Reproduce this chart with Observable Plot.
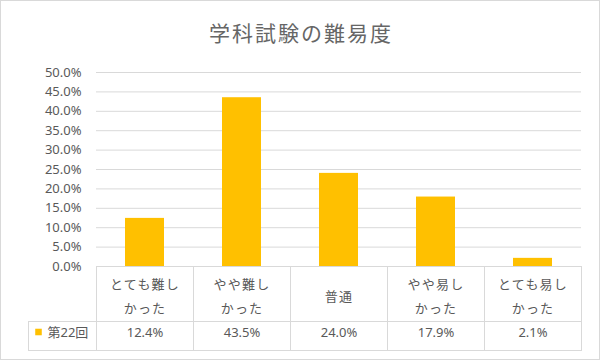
<!DOCTYPE html>
<html>
<head>
<meta charset="utf-8">
<script src="https://cdn.jsdelivr.net/npm/d3@7"></script>
<script src="https://cdn.jsdelivr.net/npm/@observablehq/plot@0.6"></script>
<style>
  html, body { margin: 0; padding: 0; background: #fff; }
  #wrap { position: relative; width: 600px; height: 360px; overflow: hidden; background: #fff;
          font-family: "Noto Sans", "Noto Sans CJK JP", sans-serif; }
  #border { position: absolute; left: 0; top: 0; width: 600px; height: 360px; box-sizing: border-box;
            border: 1px solid #d9d9d9; pointer-events: none; }
  #title { position: absolute; left: 0; top: 0; width: 600px; height: 64px; line-height: 64px;
           text-align: center; font-size: 21px; letter-spacing: 2px; padding-left: 2px; box-sizing: border-box;
           color: #666; font-family: "Noto Sans CJK JP", sans-serif; }
  #chart { position: absolute; left: 0; top: 56px; }
</style>
</head>
<body>
<div id="wrap">
  <div id="title">学科試験の難易度</div>
  <div id="chart"></div>
  <div id="border"></div>
</div>
<script>
// ---- data ----
const categories = ["とても難しかった", "やや難しかった", "普通", "やや易しかった", "とても易しかった"];
const categoryLabels = ["とても難し\nかった", "やや難し\nかった", "普通", "やや易し\nかった", "とても易し\nかった"];
const seriesName = "第22回";
const values = [0.124, 0.435, 0.240, 0.179, 0.021];
const yTicks = [0, 0.05, 0.10, 0.15, 0.20, 0.25, 0.30, 0.35, 0.40, 0.45, 0.50];

const data = categories.map((c, i) => ({cat: c, label: categoryLabels[i], value: values[i]}));
const pct = d => (d * 100).toFixed(1) + "%";

const gold = "#FFC000";
const lineColor = "#d9d9d9";
const textColor = "#595959";

const plot = Plot.plot({
  width: 600,
  height: 304,
  marginLeft: 96,
  marginRight: 19,
  marginTop: 16,
  marginBottom: 94,
  style: {fontSize: "13px", fontFamily: "'Noto Sans', 'Noto Sans CJK JP', sans-serif", color: textColor, background: "transparent", overflow: "visible"},
  x: {domain: categories, padding: 0, axis: null},
  y: {domain: [0, 0.5], ticks: yTicks, tickFormat: pct, tickSize: 0, tickPadding: 15, label: null},
  marks: [
    Plot.ruleY(yTicks, {stroke: lineColor, strokeWidth: 1}),
    Plot.barY(data, {x: "cat", y: "value", fill: gold, insetLeft: 29, insetRight: 29}),
    // data table: header row cells
    Plot.barY(categories, {x: d => d, y1: 0, y2: 0, insetBottom: -55, fill: "none", stroke: lineColor, shapeRendering: "crispEdges"}),
    // value row cells
    Plot.barY(categories, {x: d => d, y1: 0, y2: 0, insetTop: 55, insetBottom: -84, fill: "none", stroke: lineColor, shapeRendering: "crispEdges"}),
    // legend cell
    Plot.barY([categories[0]], {x: d => d, y1: 0, y2: 0, insetTop: 55, insetBottom: -84, insetLeft: -68, insetRight: 97, fill: "none", stroke: lineColor, shapeRendering: "crispEdges"}),
    // category labels
    Plot.text(data, {x: "cat", text: "label", frameAnchor: "bottom", dy: 27, lineAnchor: "middle", lineHeight: 24 / 13, fill: textColor, fontSize: 13, fontFamily: "'Noto Sans CJK JP', sans-serif"}),
    // values
    Plot.text(data, {x: "cat", text: d => pct(d.value), frameAnchor: "bottom", dy: 70, fill: textColor, fontSize: 13}),
    // legend
    Plot.dot([seriesName], {frameAnchor: "bottom-left", dx: -58, dy: 65.5, symbol: "square", r: 3.7, fill: gold, stroke: "none"}),
    Plot.text([seriesName], {text: d => d, frameAnchor: "bottom-left", dx: -49, dy: 70, textAnchor: "start", fill: textColor, fontSize: 13})
  ]
});

// letter-spacing for the category labels
plot.querySelectorAll("text").forEach(t => {
  if (/[ぁ-んァ-ン一-龯]/.test(t.textContent) && !t.textContent.includes("第")) {
    t.style.letterSpacing = "1.2px";
  }
});

document.getElementById("chart").appendChild(plot);
</script>
</body>
</html>
